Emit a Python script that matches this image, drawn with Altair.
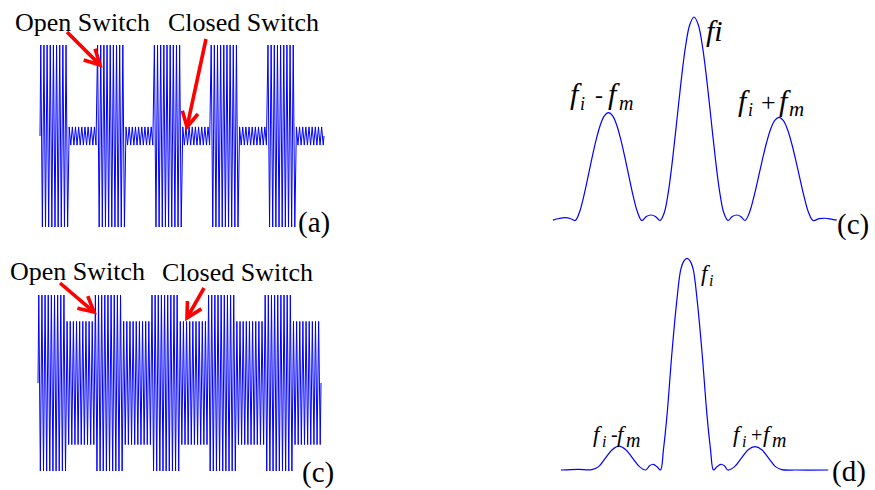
import math
import altair as alt
import pandas as pd

BLUE = "#0000ff"
RED = "#ff0000"
SERIF = "Liberation Serif, Times New Roman, serif"

# ---------------- data: switched time-domain signals (time in ms) ----------------
switch_edges = [0, 1, 2, 3, 4, 5, 6, 7, 8, 9, 10]
switch_states = ["open", "closed", "open", "closed", "open",
                 "closed", "open", "closed", "open", "closed"]
amp_panel_a = {"open": 1.0, "closed": 0.1}   # envelope amplitude per switch state
amp_panel_c = {"open": 1.0, "closed": 0.7}
carrier_cycles_per_ms = 9

# ---------------- data: spectra (frequency offset in units of f_m, relative magnitude) --------
spec_c_freq = [-1.653, -1.58, -1.51, -1.45,
               -1.392, -1.343, -1.294, -1.245, -1.196, -1.147, -1.098, -1.049, -1.0,
               -0.951, -0.902, -0.853, -0.804, -0.755, -0.706, -0.657, -0.608,
               -0.555, -0.501, -0.448,
               -0.394, -0.344, -0.294, -0.244, -0.194, -0.144, -0.094, -0.044, 0.006,
               0.056, 0.106, 0.156, 0.206, 0.256, 0.306, 0.356, 0.406,
               0.456, 0.506, 0.556,
               0.606, 0.656, 0.706, 0.756, 0.806, 0.856, 0.906, 0.956, 1.006,
               1.056, 1.106, 1.156, 1.206, 1.256, 1.306, 1.356, 1.406,
               1.48, 1.547, 1.62, 1.685]
spec_c_amp = [0.002, 0.01, 0.014, 0.01,
              0.0, 0.039, 0.114, 0.207, 0.304, 0.394, 0.467, 0.514, 0.53,
              0.514, 0.467, 0.394, 0.304, 0.207, 0.114, 0.039, 0.0,
              0.02, 0.027, 0.02,
              0.0, 0.038, 0.146, 0.309, 0.5, 0.691, 0.854, 0.962, 1.0,
              0.962, 0.854, 0.691, 0.5, 0.309, 0.146, 0.038, 0.0,
              0.02, 0.027, 0.02,
              0.0, 0.037, 0.109, 0.198, 0.291, 0.377, 0.447, 0.492, 0.507,
              0.492, 0.447, 0.377, 0.291, 0.198, 0.109, 0.037, 0.0,
              0.009, 0.011, 0.007, 0.002]

spec_d_freq = [-1.853, -1.6, -1.401, -1.3, -1.2, -1.1, -1.0, -0.9, -0.8, -0.7,
               -0.607, -0.55, -0.496, -0.44, -0.39, -0.345, -0.296, -0.218, -0.15, -0.09,
               -0.045, 0.0, 0.045, 0.09, 0.15, 0.218, 0.296, 0.345, 0.39, 0.44,
               0.496, 0.55, 0.6, 0.7, 0.8, 0.9, 1.0, 1.1, 1.2, 1.3,
               1.393, 1.6, 2.078]
spec_d_amp = [0.0, 0.003, 0.002, 0.016, 0.056, 0.096, 0.113, 0.096, 0.056, 0.016,
              0.0, 0.02, 0.027, 0.015, 0.0, 0.1, 0.252, 0.567, 0.8, 0.95,
              0.988, 1.0, 0.988, 0.95, 0.8, 0.567, 0.252, 0.1, 0.0, 0.015,
              0.027, 0.02, 0.0, 0.016, 0.056, 0.096, 0.11, 0.096, 0.056, 0.016,
              0.002, 0.0, 0.0]


# ---------------- layout helpers ----------------
class Panel:
    """gx, gy: panel origin in figure px; x0/xs, y0/ys: where data 0 sits and px per unit."""
    def __init__(self, gx, gy, w, h, x0, xs, y0, ys):
        self.gx, self.gy, self.w, self.h = gx, gy, w, h
        self.x0, self.xs, self.y0, self.ys = x0, xs, y0, ys

    @property
    def xdom(self):
        return [(self.gx - self.x0) / self.xs, (self.gx + self.w - self.x0) / self.xs]

    @property
    def ydom(self):
        return [(self.y0 - (self.gy + self.h)) / self.ys, (self.y0 - self.gy) / self.ys]

    def dx(self, px):
        return (px - self.x0) / self.xs

    def dy(self, py):
        return (self.y0 - py) / self.ys

    def X(self, f="x"):
        return alt.X(f"{f}:Q", scale=alt.Scale(domain=self.xdom, nice=False, zero=False), axis=None)

    def Y(self, f="y"):
        return alt.Y(f"{f}:Q", scale=alt.Scale(domain=self.ydom, nice=False, zero=False), axis=None)


P_A = Panel(0, 0, 540, 245, 40, 28.4, 136, 91)
P_C1 = Panel(540, 0, 335, 245, 693.5, 85, 220.5, 203.5)
P_C2 = Panel(0, 245, 540, 245, 38, 28.3, 383, 88)
P_D = Panel(540, 245, 335, 245, 687, 68, 470, 211.7)


def signal_frame(amps):
    n_half = 2 * carrier_cycles_per_ms * len(switch_states)
    rows = [{"x": float(switch_edges[0]), "y": 0.0, "i": 0}]
    for k in range(n_half):
        t = (k + 0.5) / (2 * carrier_cycles_per_ms)
        seg = 0
        while seg < len(switch_states) - 1 and t >= switch_edges[seg + 1]:
            seg += 1
        sign = 1 if k % 2 == 0 else -1
        rows.append({"x": t, "y": sign * amps[switch_states[seg]], "i": k + 1})
    rows.append({"x": float(switch_edges[-1]), "y": 0.0, "i": n_half + 1})
    return pd.DataFrame(rows)


def wave_layer(p, amps):
    return alt.Chart(signal_frame(amps)).mark_line(color=BLUE, strokeWidth=1).encode(
        x=p.X(), y=p.Y(), order="i:Q")


def spec_layer(p, fr, am):
    df = pd.DataFrame({"x": fr, "y": am, "i": range(len(fr))})
    return alt.Chart(df).mark_line(color=BLUE, strokeWidth=1.2, interpolate="catmull-rom").encode(
        x=p.X(), y=p.Y(), order="i:Q")


def text_layer(p, items, italic=False):
    df = pd.DataFrame([{"x": p.dx(a), "y": p.dy(b), "text": t, "fs": s} for t, a, b, s in items])
    return alt.Chart(df).mark_text(
        align="left", baseline="alphabetic", font=SERIF, color="black",
        fontStyle="italic" if italic else "normal").encode(
        x=p.X(), y=p.Y(), text="text:N",
        size=alt.Size("fs:Q", scale=None, legend=None))


def arrow_layer(p, items):
    rows = []
    pid = 0
    for (x1, y1, x2, y2) in items:
        L = math.hypot(x2 - x1, y2 - y1)
        ux, uy = (x2 - x1) / L, (y2 - y1) / L
        nx, ny = -uy, ux
        hl, hw = 15, 8
        shaft = [(x1, y1), (x2 - ux * 3, y2 - uy * 3)]
        head = [(x2 - ux * hl + nx * hw, y2 - uy * hl + ny * hw), (x2, y2),
                (x2 - ux * hl - nx * hw, y2 - uy * hl - ny * hw)]
        for poly in (shaft, head):
            for j, (a, b) in enumerate(poly):
                rows.append({"x": p.dx(a), "y": p.dy(b), "id": pid, "o": j})
            pid += 1
    df = pd.DataFrame(rows)
    return alt.Chart(df).mark_line(color=RED, strokeWidth=3.6, strokeJoin="miter",
                                   strokeCap="butt").encode(
        x=p.X(), y=p.Y(), detail="id:N", order="o:Q")


def panel(p, layers):
    return alt.layer(*layers).properties(width=p.w, height=p.h)


# ---------------- panel (a) ----------------
pa = panel(P_A, [
    wave_layer(P_A, amp_panel_a),
    arrow_layer(P_A, [(67, 32, 100, 65), (206, 39, 187, 127)]),
    text_layer(P_A, [("Open Switch", 15, 31, 26), ("Closed Switch", 168, 31, 26),
                     ("(a)", 298, 232, 29)]),
])

# ---------------- top-right spectrum ----------------
pc1 = panel(P_C1, [
    spec_layer(P_C1, spec_c_freq, spec_c_amp),
    text_layer(P_C1, [("fi", 706, 41, 30),
                      ("f", 570, 104, 30), ("i", 580, 110, 18), ("f", 608, 104, 30), ("m", 619, 110, 20),
                      ("f", 738, 111, 30), ("i", 748, 116, 18), ("f", 779, 111, 30), ("m", 789, 116, 21)],
               italic=True),
    text_layer(P_C1, [("-", 595, 103, 24), ("+", 761, 111, 26), ("(c)", 837, 234, 29)]),
])

# ---------------- bottom-left signal ----------------
pc2 = panel(P_C2, [
    wave_layer(P_C2, amp_panel_c),
    arrow_layer(P_C2, [(60, 283, 94, 312), (204, 288, 187, 318)]),
    text_layer(P_C2, [("Open Switch", 10, 280, 26), ("Closed Switch", 162, 281, 26),
                      ("(c)", 302, 482, 29)]),
])

# ---------------- bottom-right spectrum ----------------
pd_ = panel(P_D, [
    spec_layer(P_D, spec_d_freq, spec_d_amp),
    text_layer(P_D, [("f", 701, 281, 23), ("i", 709, 286, 16),
                     ("f", 593, 442, 23), ("i", 602, 447, 16), ("f", 617, 442, 23), ("m", 626, 447, 20),
                     ("f", 733, 442, 23), ("i", 742, 447, 16), ("f", 763, 442, 23), ("m", 772, 447, 20)],
               italic=True),
    text_layer(P_D, [("-", 611, 441, 20), ("+", 751, 442, 20), ("(d)", 832, 481, 29)]),
])

chart = alt.concat(pa, pc1, pc2, pd_, columns=2, spacing=0, bounds="flush").properties(
    padding=0, background="white"
).configure_view(stroke=None)

chart.save("out.html", embed_options={"renderer": "svg", "actions": False})
